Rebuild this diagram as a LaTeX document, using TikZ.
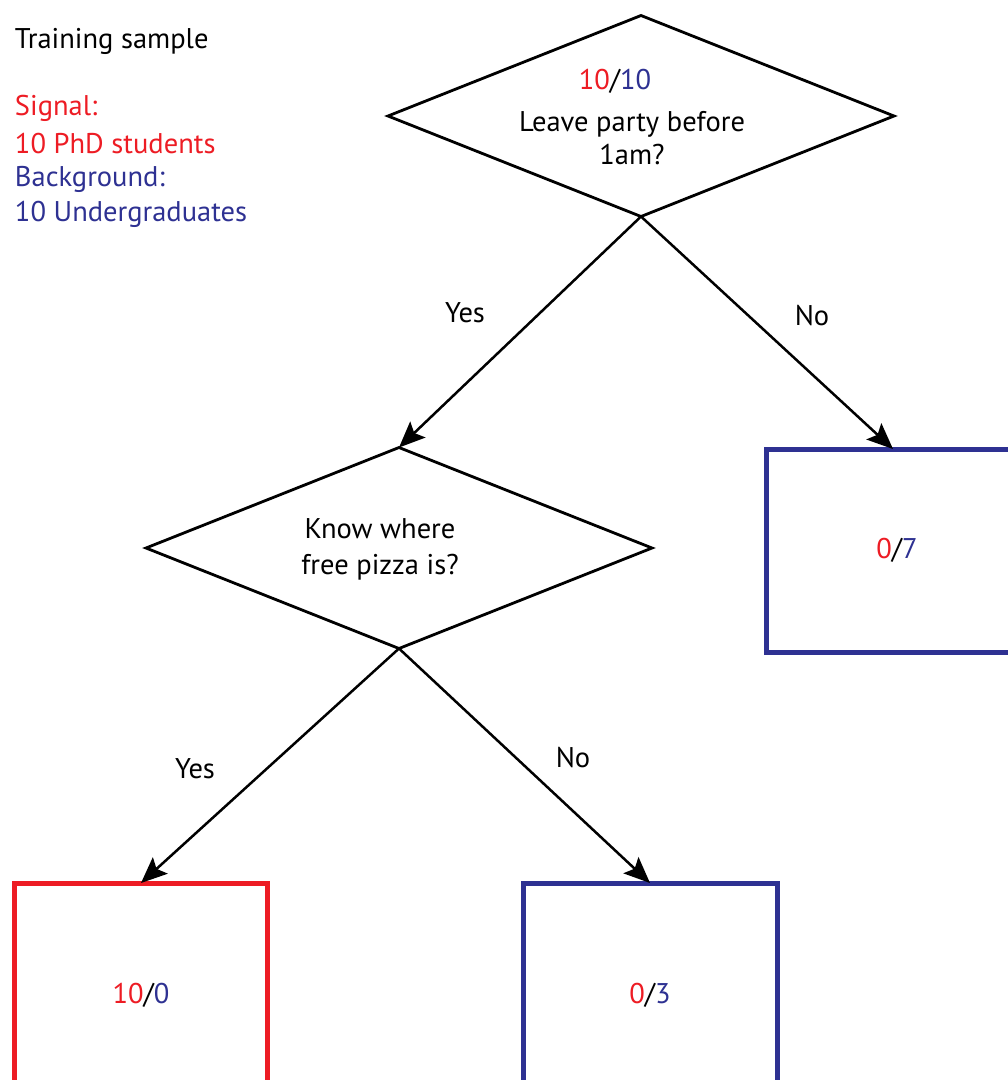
\documentclass[tikz,border=0pt]{standalone}
\usepackage{fontspec}
\setmainfont{PT Sans}
\usetikzlibrary{shapes.geometric,arrows.meta}
\definecolor{sigred}{RGB}{237,28,36}
\definecolor{bkgblue}{RGB}{46,49,146}
\begin{document}
\begin{tikzpicture}[x=1pt,y=-1pt,
  font=\fontsize{28.5}{35.5}\selectfont,
  every node/.style={outer sep=0pt},
  dec/.style={diamond, draw, line width=2.8pt, minimum width=506pt, minimum height=201pt, inner sep=0pt},
  leaf/.style={rectangle, draw, line width=5pt, inner sep=0pt, minimum width=253pt},
  conn/.style={line width=2.5pt, -{Stealth[length=26pt,width=22pt,inset=5pt]}},
  lbl/.style={inner sep=0pt}]
\useasboundingbox (0,0) rectangle (1008,1080);
\clip (0,0) rectangle (1008,1080);
% legend
\node[lbl, anchor=west] (title) at (15,41) {Training sample};
\node[lbl, anchor=west, text=sigred] (sig1) at (15,108) {Signal:};
\node[lbl, anchor=west, text=sigred] (sig2) at (15,144) {10 PhD students};
\node[lbl, anchor=west, text=bkgblue] (bkg1) at (15,179) {Background:};
\node[lbl, anchor=west, text=bkgblue] (bkg2) at (15,214) {10 Undergraduates};
% decisions
\node[dec] (d1) at (641,116) {};
\node[lbl] (d1n) at (615,81) {\textcolor{sigred}{10}/\textcolor{bkgblue}{10}};
\node[lbl, align=center, font=\fontsize{28.5}{33}\selectfont] (d1t) at (632,138) {Leave party before\\1am?};
\node[dec] (d2) at (399,548) {};
\node[lbl, align=center, font=\fontsize{28.5}{36}\selectfont] (d2t) at (380,549) {Know where\\free pizza is?};
% leaves
\node[leaf, draw=bkgblue, minimum width=262pt, minimum height=203pt] (l7) at (897,550.5) {\textcolor{sigred}{0}/\textcolor{bkgblue}{7}};
\node[leaf, draw=sigred, minimum width=253pt, minimum height=224pt] (l10) at (141,995) {\textcolor{sigred}{10}/\textcolor{bkgblue}{0}};
\node[leaf, draw=bkgblue, minimum width=254pt, minimum height=224pt] (l3) at (650,995) {\textcolor{sigred}{0}/\textcolor{bkgblue}{3}};
% connectors
\draw[conn] (d1.south) -- (l7.north -| 893,0);
\draw[conn] (d1.south) -- (d2.north);
\draw[conn] (d2.south) -- (l10.north);
\draw[conn] (d2.south) -- (l3.north);
% branch labels
\node[lbl] (y1) at (465,313) {Yes};
\node[lbl] (n1) at (812,316) {No};
\node[lbl] (y2) at (195,769) {Yes};
\node[lbl] (n2) at (573,758) {No};
\end{tikzpicture}
\end{document}
